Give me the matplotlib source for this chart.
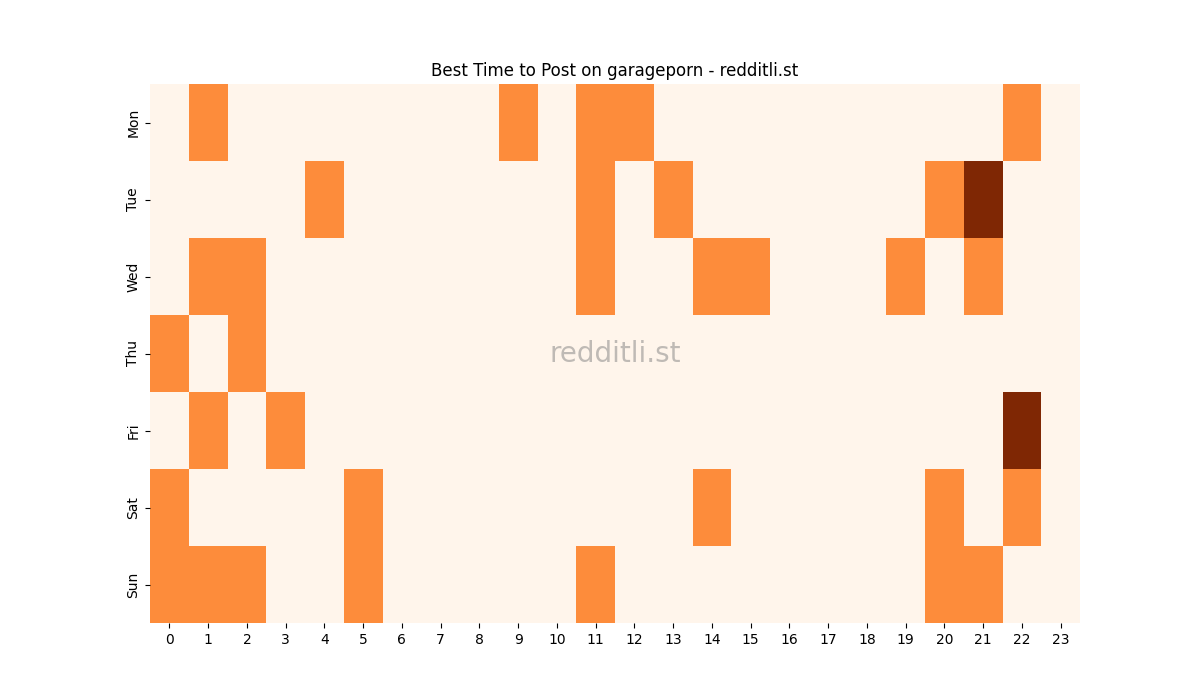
import matplotlib
matplotlib.use("Agg")
import matplotlib.pyplot as plt
import numpy as np
import seaborn as sns

days = ["Mon", "Tue", "Wed", "Thu", "Fri", "Sat", "Sun"]
hours = list(range(24))

# posts per day/hour (0, 1 or 2)
mon = [0,1,0,0,0,0,0,0,0,1,0,1,1,0,0,0,0,0,0,0,0,0,1,0]
tue = [0,0,0,0,1,0,0,0,0,0,0,1,0,1,0,0,0,0,0,0,1,2,0,0]
wed = [0,1,1,0,0,0,0,0,0,0,0,1,0,0,1,1,0,0,0,1,0,1,0,0]
thu = [1,0,1,0,0,0,0,0,0,0,0,0,0,0,0,0,0,0,0,0,0,0,0,0]
fri = [0,1,0,1,0,0,0,0,0,0,0,0,0,0,0,0,0,0,0,0,0,0,2,0]
sat = [1,0,0,0,0,1,0,0,0,0,0,0,0,0,1,0,0,0,0,0,1,0,1,0]
sun = [1,1,1,0,0,1,0,0,0,0,0,1,0,0,0,0,0,0,0,0,1,1,0,0]

data = np.array([mon, tue, wed, thu, fri, sat, sun])

fig, ax = plt.subplots(figsize=(12, 7), dpi=100)
sns.heatmap(data, cmap="Oranges", cbar=False, ax=ax, vmin=0, vmax=2,
            xticklabels=hours, yticklabels=days)
ax.set_yticklabels(days, rotation=90, va="center")
ax.set_xticklabels(hours, rotation=0)
ax.set_title("Best Time to Post on garageporn - redditli.st", fontsize=12)
ax.text(0.5, 0.5, "redditli.st", transform=ax.transAxes, ha="center", va="center",
        fontsize=20, color="gray", alpha=0.5)
fig.savefig("out.png", dpi=100)
